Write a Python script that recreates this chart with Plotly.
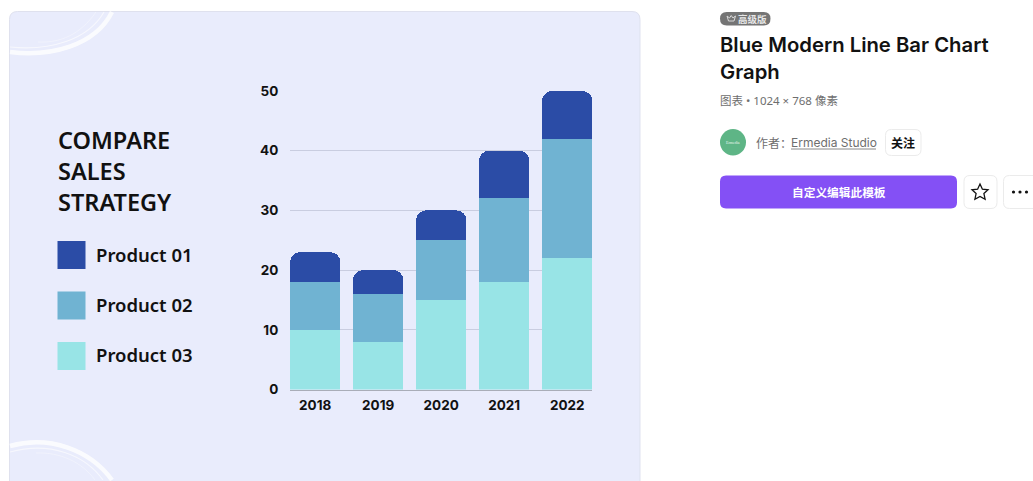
import plotly.graph_objects as go

W, H = 1033, 481
years = ["2018", "2019", "2020", "2021", "2022"]
product_03 = [10, 8, 15, 18, 22]
product_02 = [8, 8, 10, 14, 20]
product_01 = [5, 4, 5, 8, 8]
y_ticks = [0, 10, 20, 30, 40, 50]
names = ["Product 01", "Product 02", "Product 03"]
colors = {"Product 01": "#2b4ca6", "Product 02": "#70b3d2", "Product 03": "#98e4e6"}
title_lines = ["COMPARE", "SALES", "STRATEGY"]


def fx(x):
    return x / W


def fy(y):
    return 1 - y / H


def P(x, y):
    return f"{fx(x):.5f},{fy(y):.5f}"


def rr(x0, y0, x1, y1, r):
    return (f"M{P(x0 + r, y0)} L{P(x1 - r, y0)} Q{P(x1, y0)} {P(x1, y0 + r)} "
            f"L{P(x1, y1 - r)} Q{P(x1, y1)} {P(x1 - r, y1)} L{P(x0 + r, y1)} "
            f"Q{P(x0, y1)} {P(x0, y1 - r)} L{P(x0, y0 + r)} Q{P(x0, y0)} {P(x0 + r, y0)} Z")


shapes = []


def box(x0, y0, x1, y1, r, fill, line=None, layer="below"):
    shapes.append(dict(type="path", xref="paper", yref="paper", path=rr(x0, y0, x1, y1, r),
                       fillcolor=fill, line=dict(color=line or "rgba(0,0,0,0)", width=1), layer=layer))


def stroke(path, width, opacity=0.75, color="#ffffff", layer="below"):
    shapes.append(dict(type="path", xref="paper", yref="paper", path=path,
                       line=dict(color=color, width=width), opacity=opacity, layer=layer))


# panel
box(9.5, 11.5, 640, 495, 8, "#e9ecfc", "#dfe1ee")

# brush arcs
stroke(f"M{P(10, 52)} C{P(50, 57)} {P(95, 46)} {P(112, 12)}", 4.5, 0.8)
stroke(f"M{P(10, 47)} C{P(50, 51)} {P(88, 40)} {P(104, 12)}", 1.2, 0.6)
stroke(f"M{P(38, 42)} C{P(60, 43)} {P(80, 35)} {P(96, 12)}", 0.8, 0.45)
stroke(f"M{P(10, 446)} C{P(50, 435)} {P(90, 450)} {P(112, 480)}", 4.5, 0.8)
stroke(f"M{P(10, 452)} C{P(50, 441)} {P(85, 455)} {P(103, 480)}", 1.2, 0.6)
stroke(f"M{P(36, 453)} C{P(60, 452)} {P(82, 462)} {P(95, 480)}", 0.8, 0.45)

# legend swatches
for name, y0 in zip(names, [241, 291.5, 342]):
    box(57.5, y0, 85.5, y0 + 28, 0, colors[name])

# right-side page furniture
box(720, 12, 770.5, 25.5, 6.7, "#757575")
stroke(f"M{P(727, 16)} L{P(728.5, 21)} L{P(734, 21)} L{P(735.5, 16)} L{P(733, 18)} "
       f"L{P(731.2, 15.5)} L{P(729.5, 18)} Z", 1, 1, "#d9d9d9")
shapes.append(dict(type="circle", xref="paper", yref="paper", x0=fx(720), x1=fx(746), y0=fy(155.5), y1=fy(129),
                   fillcolor="#5eb586", line=dict(width=0)))
box(885.5, 129.5, 921, 155.5, 6, "#ffffff", "#ebebeb")
box(720, 175.5, 957, 208.5, 6, "#8450f5")
box(964, 175.5, 997, 208.5, 6, "#ffffff", "#ebebeb")
box(1003.5, 175.5, 1045, 208.5, 6, "#ffffff", "#ebebeb")
stroke(f"M{P(980, 184)} L{P(982.4, 189.2)} L{P(988, 189.8)} L{P(983.9, 193.6)} L{P(985.1, 199.2)} "
       f"L{P(980, 196.4)} L{P(974.9, 199.2)} L{P(976.1, 193.6)} L{P(972, 189.8)} L{P(977.6, 189.2)} Z",
       1.3, 1, "#111111")
for cx in (1013.5, 1020, 1026.5):
    shapes.append(dict(type="circle", xref="paper", yref="paper", x0=fx(cx - 1.6), x1=fx(cx + 1.6),
                       y0=fy(192 + 1.6), y1=fy(192 - 1.6), fillcolor="#111111", line=dict(width=0)))
# underline of the author name
shapes.append(dict(type="line", xref="paper", yref="paper", x0=fx(791), x1=fx(876), y0=fy(149), y1=fy(149),
                   line=dict(color="#6b6b6b", width=0.8)))

annotations = []


def label(text, x, y, size, color="#111111", family="Noto Sans", weight=400, anchor="left"):
    annotations.append(dict(text=text, x=fx(x), y=fy(y), xref="paper", yref="paper", xanchor=anchor,
                            yanchor="middle", showarrow=False, align="left",
                            font=dict(size=size, color=color, family=family, weight=weight),
                            borderpad=0, borderwidth=0))


for line, y in zip(title_lines, [139.5, 170.5, 202]):
    label(line, 57.5, y, 23.5, weight=600, family="Noto Sans")
for name, y in zip(names, [254, 304, 354.5]):
    label(name, 96, y, 18.5, weight=600, family="Noto Sans")

cjk = "Noto Sans CJK SC"
mixed = "Noto Sans, Noto Sans CJK SC"
label("高级版", 738, 18.7, 9.5, "#e8e8e8", cjk, 700)
label("Blue Modern Line Bar Chart", 720, 45, 20.3, "#121212", "Inter", 600)
label("Graph", 720, 71, 20.3, "#121212", "Inter", 600)
label("图表 • 1024 × 768 像素", 720, 101, 11.5, "#6e6e6e", mixed)
label("Ermedia", 733, 142, 4, "#e8f5ee", "Liberation Serif", anchor="center")
label("作者：", 756, 142.5, 12, "#6e6e6e", cjk)
label("Ermedia Studio", 791, 142.5, 12, "#6e6e6e", "Inter")
label("关注", 903, 142.5, 12, "#111111", cjk, 700, "center")
label("自定义编辑此模板", 838.5, 191.5, 11.7, "#ffffff", cjk, 700, "center")

fig = go.Figure()
for name, vals in zip(reversed(names), [product_03, product_02, product_01]):
    fig.add_trace(go.Bar(x=years, y=vals, name=name, cliponaxis=False,
                         marker=dict(color=colors[name], line=dict(width=0))))

fig.update_layout(
    width=W, height=H, autosize=False, margin=dict(l=0, r=0, t=0, b=0),
    paper_bgcolor="#ffffff", plot_bgcolor="rgba(0,0,0,0)",
    barmode="stack", bargap=0.2, barcornerradius=10, showlegend=False,
    shapes=shapes, annotations=annotations,
    xaxis=dict(domain=[fx(290), fx(592.4)], range=[-0.4, 4.4], type="category", showgrid=False,
               automargin=False, zeroline=False, showline=True, linecolor="#a9adb8", linewidth=1,
               ticks="outside", ticklen=3.5, tickcolor="rgba(0,0,0,0)",
               tickfont=dict(size=13.5, family="Inter", color="#111111", weight=700)),
    yaxis=dict(domain=[fy(389.5), fy(91)], range=[0, 50], tickvals=y_ticks, showgrid=True,
               automargin=False, gridcolor="#c9cde0", gridwidth=1, zeroline=False, showline=False,
               ticks="outside", ticklen=8, tickcolor="rgba(0,0,0,0)",
               tickfont=dict(size=13.5, family="Inter", color="#111111", weight=700)),
)

fig.write_html("out.html", config=dict(displayModeBar=False),
               post_script="document.body.style.margin='0';document.body.style.overflow='hidden';")
